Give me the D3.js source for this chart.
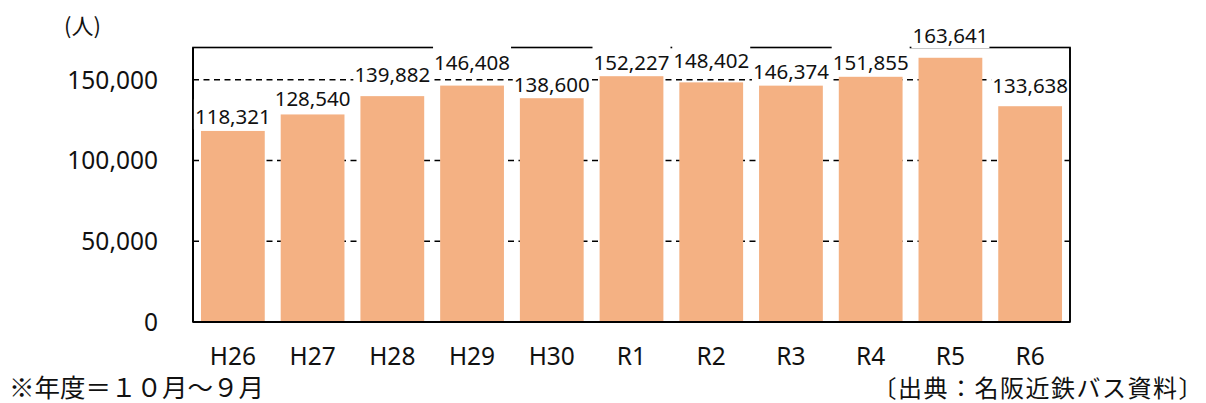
<!DOCTYPE html>
<html>
<head>
<meta charset="utf-8">
<script src="https://cdn.jsdelivr.net/npm/d3@7"></script>
<style>
  body { margin: 0; background: #fff; }
  svg { display: block; }
</style>
</head>
<body>
<svg id="chart" width="1206" height="403"></svg>
<script>
// fiscal years (Oct - Sep)
let years = ["H26", "H27", "H28", "H29", "H30", "R1", "R2", "R3", "R4", "R5", "R6"]
let riders = [118321, 128540, 139882, 146408, 138600, 152227, 148402, 146374, 151855, 163641, 133638]
let yTicks = [0, 50000, 100000, 150000]
let gridTicks = [50000, 100000, 150000]
let unitLabel = "(人)"
let noteLeft = "※年度＝１０月～９月"
let noteRight = "〔出典：名阪近鉄バス資料〕"

let svg = d3.select("#chart")

let plot = { left: 193, right: 1070, top: 47.5, bottom: 322 }

let xScale = d3.scaleBand()
    .domain(years)
    .range([plot.left, plot.right])
    .paddingInner(0.2)
    .paddingOuter(0.1)

let yScale = d3.scaleLinear()
    .domain([0, 170000])
    .range([plot.bottom, plot.top])

let numFmt = d3.format(",")

// how far above the bar top each label sits (Excel staggered them)
let labelLift = [14, 16, 22, 22.5, 13.5, 14, 21.5, 14, 14, 22, 21]

// dashed gridlines
svg.append("g")
  .selectAll("line")
  .data(gridTicks)
  .enter().append("line")
    .attr("x1", plot.left)
    .attr("x2", plot.right)
    .attr("y1", d => yScale(d))
    .attr("y2", d => yScale(d))
    .style("stroke", "#000")
    .style("stroke-width", 1.5)
    .style("stroke-dasharray", "6,4.5")

// bars
svg.append("g")
  .selectAll("rect")
  .data(riders)
  .enter().append("rect")
    .attr("x", (d, i) => xScale(years[i]))
    .attr("y", d => yScale(d))
    .attr("width", xScale.bandwidth())
    .attr("height", d => yScale(0) - yScale(d))
    .style("fill", "#f4b183")

// plot frame
svg.append("rect")
    .attr("x", plot.left)
    .attr("y", plot.top)
    .attr("width", plot.right - plot.left)
    .attr("height", plot.bottom - plot.top)
    .style("fill", "none")
    .style("stroke", "#000")
    .style("stroke-width", 1.6)

svg.append("line")
    .attr("x1", plot.left).attr("x2", plot.right)
    .attr("y1", plot.bottom).attr("y2", plot.bottom)
    .style("stroke", "#000")
    .style("stroke-width", 2.2)

svg.append("line")
    .attr("x1", plot.left).attr("x2", plot.left)
    .attr("y1", plot.top).attr("y2", plot.bottom)
    .style("stroke", "#000")
    .style("stroke-width", 2)

// data labels with white boxes
let labels = svg.append("g")
  .selectAll("g")
  .data(riders)
  .enter().append("g")
    .attr("transform", (d, i) => "translate(" + (xScale(years[i]) + xScale.bandwidth() / 2) + "," + (yScale(d) - labelLift[i]) + ")")

labels.append("rect")
    .attr("x", -39)
    .attr("y", -17.5)
    .attr("width", 78)
    .attr("height", 30)
    .style("fill", "#fff")

labels.append("text")
    .attr("text-anchor", "middle")
    .attr("dy", "0.36em")
    .style("font-family", "'Noto Sans', sans-serif")
    .style("font-size", "20.5px")
    .style("fill", "#111")
    .text(d => numFmt(d))

// right frame edge drawn over the last label
svg.append("line")
    .attr("x1", plot.right).attr("x2", plot.right)
    .attr("y1", plot.top).attr("y2", plot.bottom)
    .style("stroke", "#000")
    .style("stroke-width", 1.6)

// y tick labels
svg.append("g")
  .selectAll("text")
  .data(yTicks)
  .enter().append("text")
    .attr("x", 158)
    .attr("y", d => yScale(d))
    .attr("dy", "0.36em")
    .attr("text-anchor", "end")
    .style("font-family", "'Noto Sans', sans-serif")
    .style("font-size", "24.5px")
    .style("fill", "#111")
    .text(d => numFmt(d))

// x category labels
svg.append("g")
  .selectAll("text")
  .data(years)
  .enter().append("text")
    .attr("x", d => xScale(d) + xScale.bandwidth() / 2)
    .attr("y", 356)
    .attr("dy", "0.36em")
    .attr("text-anchor", "middle")
    .style("font-family", "'Noto Sans', sans-serif")
    .style("font-size", "24.5px")
    .style("fill", "#111")
    .text(d => d)

svg.append("text")
    .attr("x", 64)
    .attr("y", 26)
    .attr("dy", "0.36em")
    .style("font-family", "'Noto Sans CJK JP', sans-serif")
    .style("font-size", "22px")
    .style("fill", "#111")
    .text(unitLabel)

svg.append("text")
    .attr("x", 9)
    .attr("y", 388)
    .attr("dy", "0.36em")
    .style("font-family", "'Noto Sans CJK JP', sans-serif")
    .style("font-size", "25.5px")
    .style("fill", "#111")
    .text(noteLeft)

svg.append("text")
    .attr("x", 1204)
    .attr("y", 388)
    .attr("dy", "0.36em")
    .attr("text-anchor", "end")
    .style("font-family", "'Noto Sans CJK JP', sans-serif")
    .style("font-size", "24px")
    .style("letter-spacing", "1.5px")
    .style("fill", "#111")
    .text(noteRight)
</script>
</body>
</html>
